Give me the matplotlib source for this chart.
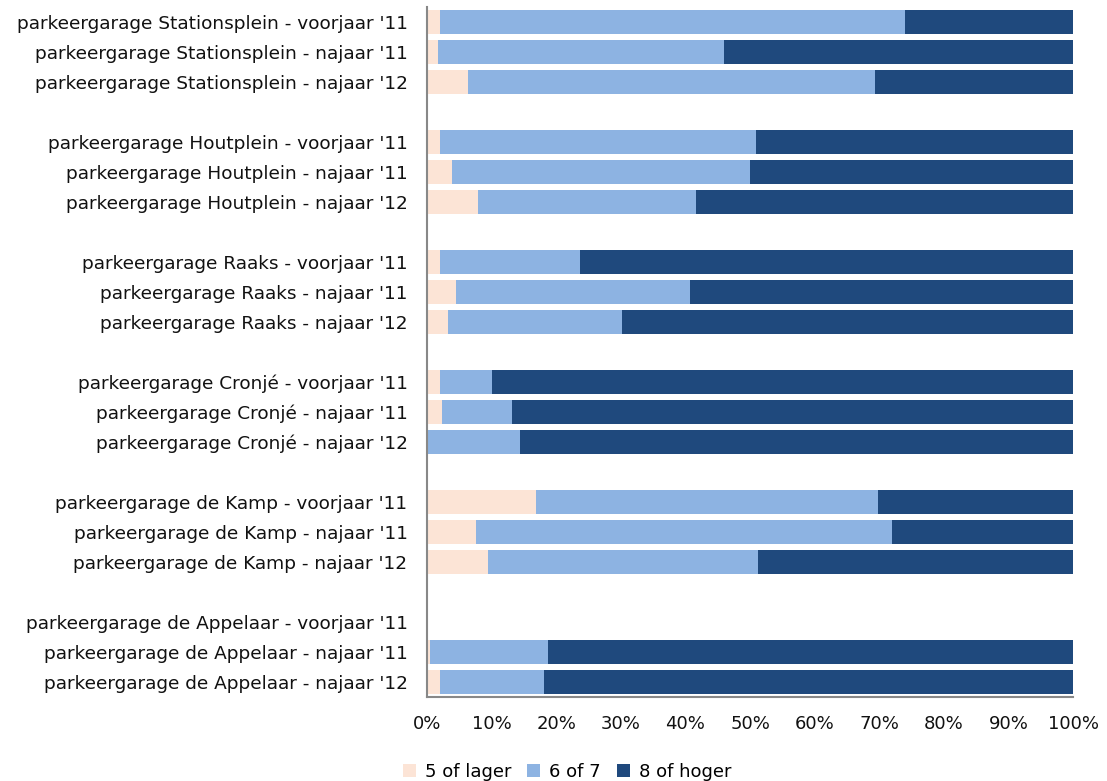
import numpy as np
import matplotlib.pyplot as plt

garages = ["Stationsplein", "Houtplein", "Raaks", "Cronjé", "de Kamp", "de Appelaar"]
periods = ["voorjaar '11", "najaar '11", "najaar '12"]

# percentages per row (garage x period)
low = [2.0, 1.7, 6.3,
       2.0, 3.9, 7.9,
       2.0, 4.5, 3.3,
       2.0, 2.3, 0.0,
       16.9, 7.6, 9.4,
       0.0, 0.5, 2.0]
mid = [72.0, 44.3, 63.0,
       48.9, 46.1, 33.7,
       21.7, 36.2, 26.9,
       8.1, 10.9, 14.4,
       52.9, 64.4, 41.8,
       0.0, 18.2, 16.1]
high = [26.0, 54.0, 30.7,
        49.1, 50.0, 58.4,
        76.3, 59.3, 69.8,
        89.9, 86.8, 85.6,
        30.2, 28.0, 48.8,
        0.0, 81.3, 81.9]

series_names = ["5 of lager", "6 of 7", "8 of hoger"]
colors = ["#FCE4D6", "#8DB3E2", "#1F497D"]

labels = []
pos = []
for g, name in enumerate(garages):
    for r, p in enumerate(periods):
        labels.append(f"parkeergarage {name} - {p}")
        pos.append(g * 4 + r)
pos = np.array(pos)

plt.rcParams['font.family'] = ['DejaVu Sans']
fig = plt.figure(figsize=(11.07, 7.81), dpi=100)
ax = fig.add_axes([427 / 1107, 1 - 697 / 781, 646 / 1107, 690 / 781])

left = np.zeros(len(pos))
for vals, name, c in zip([low, mid, high], series_names, colors):
    vals = np.array(vals)
    ax.barh(pos, vals, left=left, height=0.8, color=c, label=name, edgecolor='none')
    left += vals

ax.set_ylim(pos.max() + 0.5, -0.5)
ax.set_xlim(0, 100)
ax.set_yticks(pos)
ax.set_yticklabels(labels, fontsize=13.3, color='#111111')
ax.set_xticks(range(0, 101, 10))
ax.set_xticklabels([f"{v}%" for v in range(0, 101, 10)], fontsize=13, color='#111111')
ax.tick_params(axis='both', length=0)
ax.tick_params(axis='y', pad=14)
ax.tick_params(axis='x', pad=13)

for s in ['top', 'right']:
    ax.spines[s].set_visible(False)
for s in ['left', 'bottom']:
    ax.spines[s].set_color('#888888')
    ax.spines[s].set_linewidth(1.5)

fig.legend(loc='lower center', bbox_to_anchor=(567 / 1107, -0.016), ncol=3, frameon=False,
           fontsize=13, handlelength=0.7, handleheight=0.7, handletextpad=0.5,
           columnspacing=0.9, borderpad=0.2)

fig.savefig("out.png", dpi=100)
